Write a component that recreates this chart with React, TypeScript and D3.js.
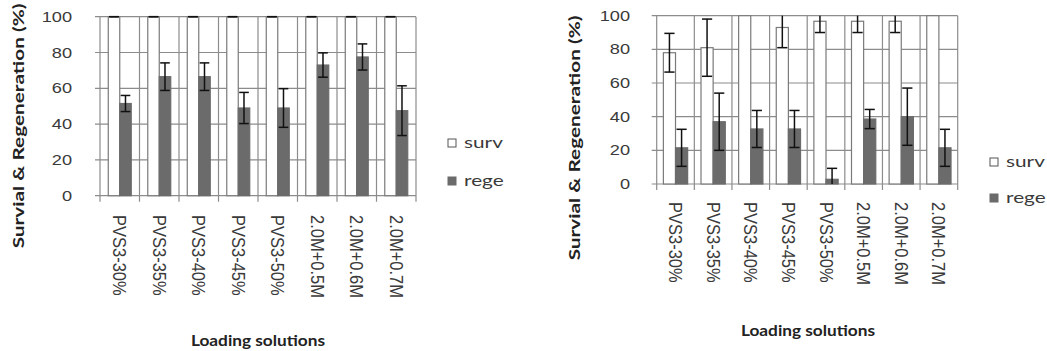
import React from 'react';
import * as d3 from 'd3';

const categories = ['PVS3-30%', 'PVS3-35%', 'PVS3-40%', 'PVS3-45%', 'PVS3-50%', '2.0M+0.5M', '2.0M+0.6M', '2.0M+0.7M'];
const series = ['surv', 'rege'];
const yTicks = [0, 20, 40, 60, 80, 100];

// left panel
const leftSurv = [100, 100, 100, 100, 100, 100, 100, 100];
const leftSurvErr = [0, 0, 0, 0, 0, 0, 0, 0];
const leftRege = [51.5, 66.5, 66.5, 49, 49, 73, 77.5, 47.5];
const leftRegeErr = [4.5, 7.7, 7.7, 8.7, 10.8, 6.8, 7.3, 13.9];

// right panel
const rightSurv = [78, 81, 100, 93, 96.7, 96.7, 96.7, 100];
const rightSurvErr = [11.5, 17, null, 12, 6.7, 6.7, 6.7, null];
const rightRege = [21.5, 37, 32.7, 32.7, 2.8, 38.6, 40, 21.5];
const rightRegeErr = [11, 17, 11, 11, 6.5, 5.7, 17, 11];

const GRID = '#8c8c8c';
const DARK = '#6b6b6b';
const TEXT = '#3a3a3a';
const SX = 1.3; // the picture is stretched sideways

interface PanelProps {
  x0: number; x1: number; yTop: number; yBottom: number;
  pad: number;
  surv: number[]; survErr: (number | null)[];
  rege: number[]; regeErr: (number | null)[];
  tickX: number; catY: number;
  yTitle: [number, number]; xTitle: [number, number];
  legendX: number; legendY: [number, number];
}

const Panel: React.FC<PanelProps> = (p) => {
  const x = d3.scaleBand<string>().domain(categories).range([p.x0, p.x1]).padding(0);
  const inner = d3.scaleBand<string>().domain(series).range([0, x.bandwidth()])
    .paddingInner(0).paddingOuter(p.pad);
  const y = d3.scaleLinear().domain([0, 100]).range([p.yBottom, p.yTop]);
  const clamp = (v: number) => Math.max(0, Math.min(100, v));
  const bw = inner.bandwidth();
  const cap = bw * 0.42;

  const vals = [p.surv, p.rege];
  const errs = [p.survErr, p.regeErr];
  const bounds = categories.map((_, i) => p.x0 + i * x.step()).concat([p.x1]);

  return (
    <g>
      {yTicks.map(t => (
        <g key={'gy' + t}>
          <line x1={p.x0 - 5} x2={p.x1} y1={y(t)} y2={y(t)} stroke={GRID} strokeWidth={1.2} />
          <text transform={`translate(${p.tickX},${y(t) + 5}) scale(${SX},1)`} textAnchor="end"
            fontFamily="Liberation Sans" fontSize={14} fill={TEXT}>{t}</text>
        </g>
      ))}
      {bounds.map((b, i) => (
        <line key={'gx' + i} x1={b} x2={b} y1={y(100)} y2={y(0) + 6} stroke={GRID} strokeWidth={1.2} />
      ))}
      {series.map((s, si) => categories.map((c, i) => {
        const v = vals[si][i];
        const bx = x(c)! + inner(s)!;
        return (
          <rect key={s + c} x={bx} y={y(v)} width={bw} height={y(0) - y(v)}
            fill={si === 0 ? '#ffffff' : DARK} stroke={si === 0 ? '#7a7a7a' : DARK} strokeWidth={1.2} />
        );
      }))}
      {series.map((s, si) => categories.map((c, i) => {
        const e = errs[si][i];
        if (e === null || e === undefined) return null;
        const v = vals[si][i];
        const cx = x(c)! + inner(s)! + bw / 2;
        const hi = v + e, lo = v - e;
        return (
          <g key={'e' + s + c} stroke="#111" strokeWidth={1.5}>
            <line x1={cx} x2={cx} y1={y(clamp(hi))} y2={y(clamp(lo))} />
            {hi <= 100 && <line x1={cx - cap} x2={cx + cap} y1={y(hi)} y2={y(hi)} />}
            {lo >= 0 && <line x1={cx - cap} x2={cx + cap} y1={y(lo)} y2={y(lo)} />}
          </g>
        );
      }))}
      {categories.map(c => (
        <text key={'c' + c} transform={`translate(${x(c)! + x.bandwidth() / 2 - 6.5},${p.catY}) scale(1.1,1) rotate(90)`}
          fontFamily="Liberation Sans" fontSize={16.5} fill={TEXT}>{c}</text>
      ))}
      <text transform={`translate(${p.yTitle[0]},${p.yTitle[1]}) rotate(-90) scale(1.6,1.1)`} textAnchor="middle"
        fontFamily="Lato" fontWeight="bold" fontSize={13} fill="#222">Survial &amp; Regeneration (%)</text>
      <text transform={`translate(${p.xTitle[0]},${p.xTitle[1]}) scale(1.15,1)`} textAnchor="middle"
        fontFamily="Lato" fontWeight="bold" fontSize={15} fill="#222">Loading solutions</text>
      {series.map((s, si) => (
        <g key={'lg' + s}>
          <rect x={p.legendX} y={p.legendY[si] - 4} width={8} height={8}
            fill={si === 0 ? '#ffffff' : DARK} stroke={si === 0 ? '#555' : DARK} strokeWidth={1} />
          <text transform={`translate(${p.legendX + 16},${p.legendY[si] + 5}) scale(${SX},1)`}
            fontFamily="Lato" fontSize={16} fill={TEXT}>{s}</text>
        </g>
      ))}
    </g>
  );
};

export default function App() {
  return (
    <svg width={1047} height={351} style={{ position: 'absolute', left: 0, top: 0, background: '#fff' }}>
      <Panel x0={100} x1={416} yTop={16.7} yBottom={195.7} pad={0.72}
        surv={leftSurv} survErr={leftSurvErr} rege={leftRege} regeErr={leftRegeErr}
        tickX={72} catY={215} yTitle={[24, 126]} xTitle={[258, 346]}
        legendX={448} legendY={[143, 181]} />
      <Panel x0={656.7} x1={957.7} yTop={15.7} yBottom={184} pad={0.55}
        surv={rightSurv} survErr={rightSurvErr} rege={rightRege} regeErr={rightRegeErr}
        tickX={630} catY={202} yTitle={[580, 138]} xTitle={[808, 336]}
        legendX={990} legendY={[162, 198]} />
    </svg>
  );
}
